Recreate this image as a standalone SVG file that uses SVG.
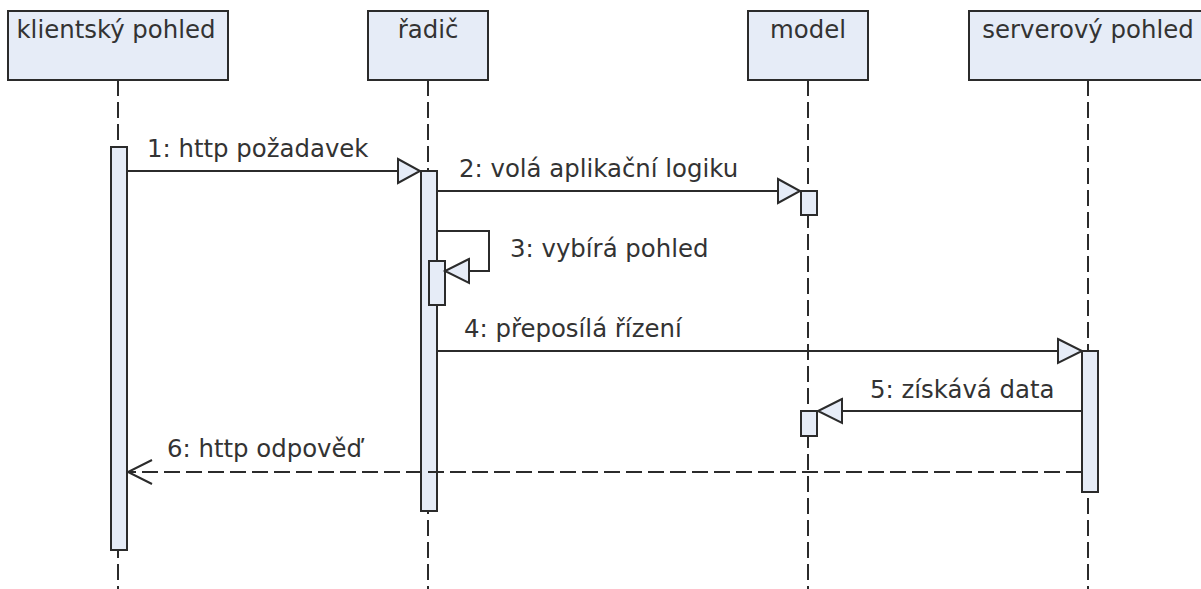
<svg xmlns="http://www.w3.org/2000/svg" width="1201" height="589" viewBox="0 0 1201 589">
  <defs>
    <style>
      .box { fill: #e6ecf7; stroke: #2b2b2b; stroke-width: 2; }
      .act { fill: #e6ecf7; stroke: #2b2b2b; stroke-width: 2; }
      .life { stroke: #2b2b2b; stroke-width: 2; stroke-dasharray: 16 6; fill: none; }
      .msg { stroke: #2b2b2b; stroke-width: 2; fill: none; }
      .ret { stroke: #2b2b2b; stroke-width: 2; fill: none; stroke-dasharray: 16 6; }
      .head { fill: #e6ecf7; stroke: #2b2b2b; stroke-width: 2; stroke-linejoin: miter; }
      .open { fill: none; stroke: #2b2b2b; stroke-width: 2; }
      text { font-family: "DejaVu Sans", Verdana, sans-serif; font-size: 24.4px; fill: #333333; }
      .title { text-anchor: middle; }
    </style>
  </defs>

  <!-- lifelines -->
  <g id="lifelines">
    <line class="life" x1="118" y1="80" x2="118" y2="589"/>
    <line class="life" x1="428" y1="80" x2="428" y2="589"/>
    <line class="life" x1="808" y1="80" x2="808" y2="589"/>
    <line class="life" x1="1088" y1="80" x2="1088" y2="589"/>
  </g>

  <!-- participants -->
  <g id="klient">
    <rect class="box" x="8" y="11" width="220" height="69"/>
    <text class="title" x="116" y="38">klientský pohled</text>
  </g>
  <g id="radic">
    <rect class="box" x="368" y="11" width="120" height="69"/>
    <text class="title" x="428" y="38">řadič</text>
  </g>
  <g id="model">
    <rect class="box" x="748" y="11" width="120" height="69"/>
    <text class="title" x="808" y="38">model</text>
  </g>
  <g id="server">
    <rect class="box" x="969" y="11" width="240" height="69"/>
    <text class="title" x="1088" y="38">serverový pohled</text>
  </g>

  <!-- activations -->
  <g id="activations">
    <rect class="act" x="111" y="147" width="16" height="403"/>
    <rect class="act" x="421" y="171" width="16" height="340"/>
    <rect class="act" x="429" y="261" width="16" height="44"/>
    <rect class="act" x="801" y="191" width="16" height="24"/>
    <rect class="act" x="1082" y="351" width="16" height="141"/>
    <rect class="act" x="801" y="411" width="16" height="25"/>
  </g>

  <!-- messages -->
  <g id="connectors">
    <!-- 1 -->
    <line class="msg" x1="127" y1="171" x2="398" y2="171"/>
    <polygon class="head" points="398,159 420,171 398,183"/>
    <!-- 2 -->
    <line class="msg" x1="437" y1="191" x2="778" y2="191"/>
    <polygon class="head" points="778,179 800,191 778,203"/>
    <!-- 3 self call -->
    <polyline class="msg" points="437,231 489,231 489,271 469,271"/>
    <polygon class="head" points="469,259 445,271 469,283"/>
    <!-- 4 -->
    <line class="msg" x1="437" y1="351" x2="1058" y2="351"/>
    <polygon class="head" points="1058,339 1082,351 1058,363"/>
    <!-- 5 -->
    <line class="msg" x1="1082" y1="411" x2="842" y2="411"/>
    <polygon class="head" points="842,399 818,411 842,423"/>
    <!-- 6 reply -->
    <line class="ret" x1="1082" y1="472" x2="129" y2="472"/>
    <polyline class="open" points="152,460 128,472 152,484"/>
  </g>

  <!-- message labels -->
  <g id="labels">
    <text x="147" y="157">1: http požadavek</text>
    <text x="459" y="177">2: volá aplikační logiku</text>
    <text x="510" y="257">3: vybírá pohled</text>
    <text x="464" y="337">4: přeposílá řízení</text>
    <text x="870" y="398">5: získává data</text>
    <text x="167" y="457">6: http odpověď</text>
  </g>
</svg>
